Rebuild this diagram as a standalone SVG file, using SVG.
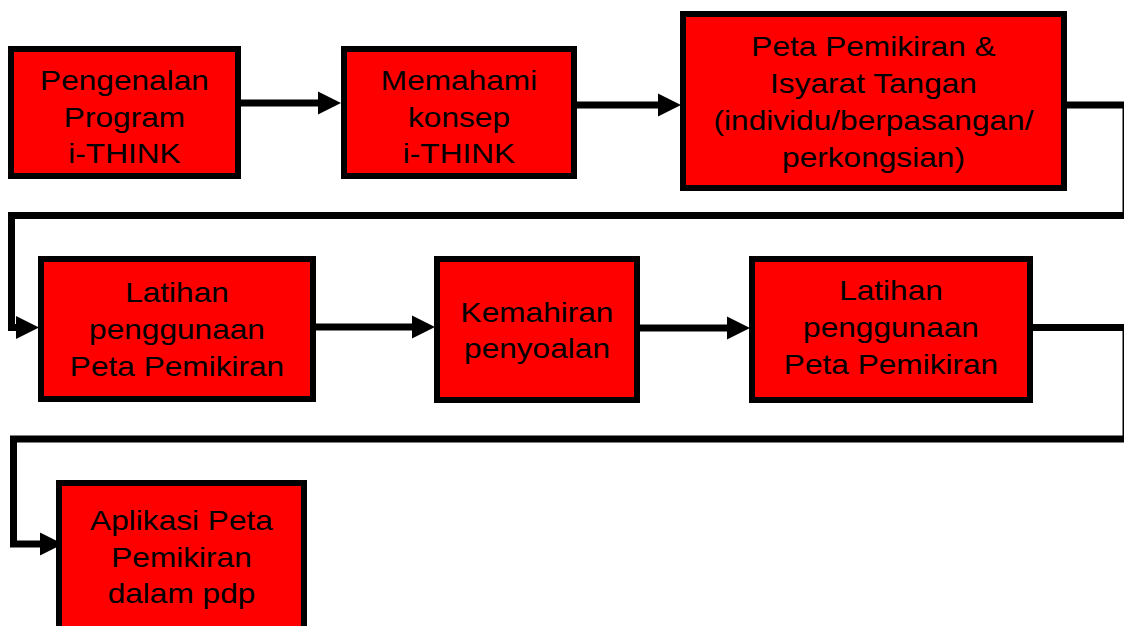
<svg xmlns="http://www.w3.org/2000/svg" width="1124" height="626" viewBox="0 0 1124 626">
<style>
.box{fill:#ff0000;stroke:#000;stroke-width:6}
.lbl{font-family:"Liberation Sans",Arial,sans-serif;font-size:28.5px;fill:#000;text-anchor:middle}
.ln{fill:none;stroke:#000;stroke-width:7;stroke-linejoin:miter}
.ah{fill:#000}
</style>
<rect width="1124" height="626" fill="#fff"/>
<g id="connectors">
<path class="ln" d="M241,103 H322"/>
<polygon class="ah" points="318,91.5 341,103 318,114.5"/>
<path class="ln" d="M577,105 H662"/>
<polygon class="ah" points="658,93.5 681,105 658,116.5"/>
<path class="ln" d="M1067,105 H1126 V215.5 H11.5 V327.5 H20"/>
<polygon class="ah" points="16,316 39,327.5 16,339"/>
<path class="ln" d="M316,327 H416"/>
<polygon class="ah" points="412,315.5 435,327 412,338.5"/>
<path class="ln" d="M640,328 H731"/>
<polygon class="ah" points="727,316.5 750,328 727,339.5"/>
<path class="ln" d="M1033,327.5 H1126 V439 H13.5 V544 H44"/>
<polygon class="ah" points="40,532.5 63,544 40,555.5"/>
</g>
<g id="n1">
<rect class="box" x="11" y="49" width="227" height="127"/>
<text class="lbl" transform="translate(124.5,90) scale(1.11,1)">Pengenalan</text>
<text class="lbl" transform="translate(124.5,126.5) scale(1.11,1)">Program</text>
<text class="lbl" transform="translate(124.5,163) scale(1.11,1)">i-THINK</text>
</g>
<g id="n2">
<rect class="box" x="344" y="49" width="230" height="127"/>
<text class="lbl" transform="translate(459,90) scale(1.11,1)">Memahami</text>
<text class="lbl" transform="translate(459,126.5) scale(1.11,1)">konsep</text>
<text class="lbl" transform="translate(459,163) scale(1.11,1)">i-THINK</text>
</g>
<g id="n3">
<rect class="box" x="683" y="14" width="381" height="174"/>
<text class="lbl" transform="translate(873.5,56) scale(1.11,1)">Peta Pemikiran &amp;</text>
<text class="lbl" transform="translate(873.5,93) scale(1.11,1)">Isyarat Tangan</text>
<text class="lbl" transform="translate(873.5,130) scale(1.11,1)">(individu/berpasangan/</text>
<text class="lbl" transform="translate(873.5,167) scale(1.11,1)">perkongsian)</text>
</g>
<g id="n4">
<rect class="box" x="41" y="259" width="272" height="140"/>
<text class="lbl" transform="translate(177,302) scale(1.11,1)">Latihan</text>
<text class="lbl" transform="translate(177,339) scale(1.11,1)">penggunaan</text>
<text class="lbl" transform="translate(177,376) scale(1.11,1)">Peta Pemikiran</text>
</g>
<g id="n5">
<rect class="box" x="437" y="259" width="200" height="141"/>
<text class="lbl" transform="translate(537,322) scale(1.11,1)">Kemahiran</text>
<text class="lbl" transform="translate(537,358) scale(1.11,1)">penyoalan</text>
</g>
<g id="n6">
<rect class="box" x="752" y="259" width="278" height="141"/>
<text class="lbl" transform="translate(891,300) scale(1.11,1)">Latihan</text>
<text class="lbl" transform="translate(891,337) scale(1.11,1)">penggunaan</text>
<text class="lbl" transform="translate(891,374) scale(1.11,1)">Peta Pemikiran</text>
</g>
<g id="n7">
<rect class="box" x="59" y="483" width="245" height="160"/>
<text class="lbl" transform="translate(181.5,530) scale(1.11,1)">Aplikasi Peta</text>
<text class="lbl" transform="translate(181.5,567) scale(1.11,1)">Pemikiran</text>
<text class="lbl" transform="translate(181.5,603) scale(1.11,1)">dalam pdp</text>
</g>
</svg>
